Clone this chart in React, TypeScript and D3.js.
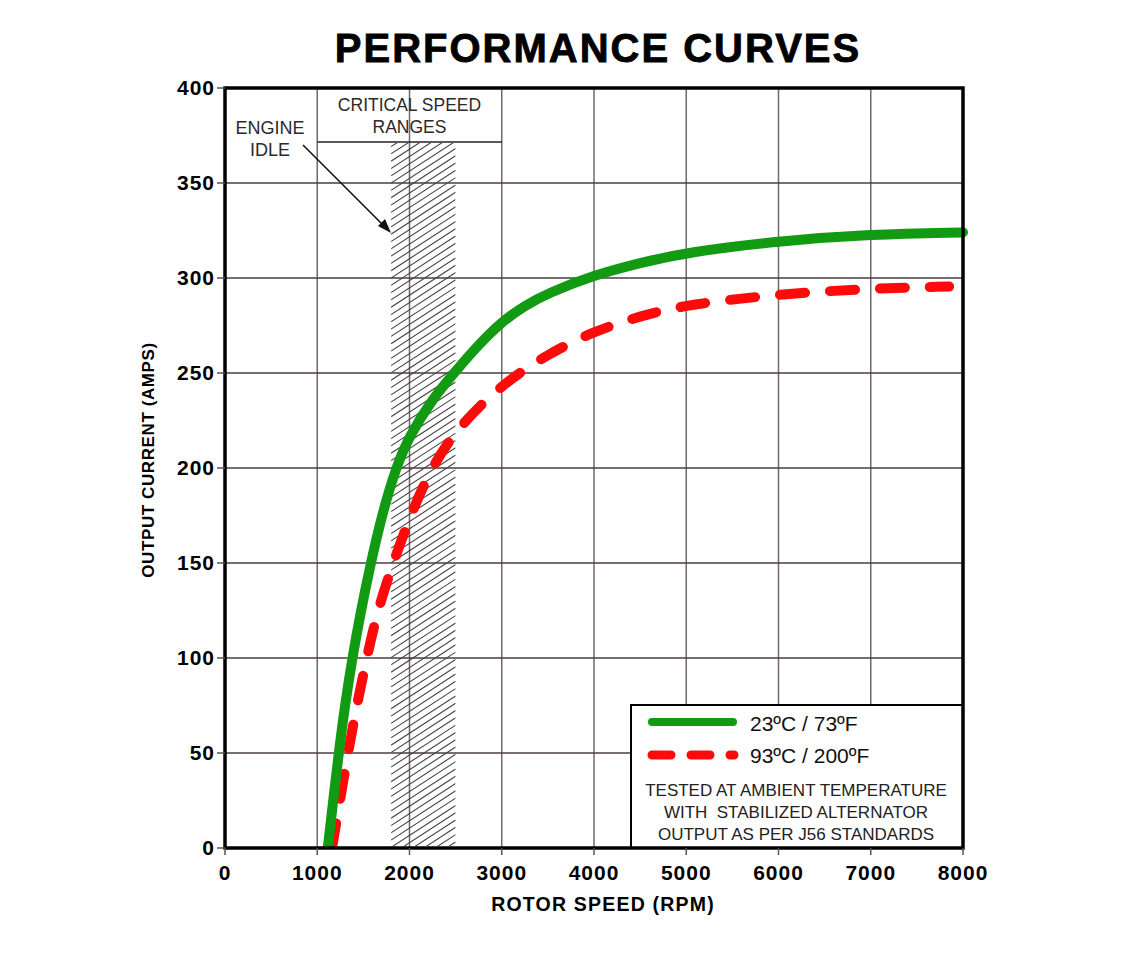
import React from 'react';
import * as d3 from 'd3';

// rotor speed (rpm) vs output current (amps)
const coolRpm = [1114, 1232, 1300, 1380, 1474, 1580, 1700, 1850, 2000, 2250, 2500, 2750, 3000, 3250, 3500, 4000, 4500, 5000, 6000, 7000, 8000];
const coolAmps = [0, 50, 75, 100, 125, 150, 175, 200, 217, 236.5, 251, 265, 277, 285.5, 292, 301.5, 308, 313.5, 319.5, 323, 324];

const hotRpm = [1160, 1332, 1429, 1536, 1654, 1821, 2011, 2232, 2536, 3000, 3500, 4000, 4500, 5000, 6000, 7000, 7850];
const hotAmps = [0, 50, 75, 100, 125, 150, 175, 200, 222, 244, 260, 272, 280, 286, 291.5, 294.5, 295.5];

const xTicks = [0, 1000, 2000, 3000, 4000, 5000, 6000, 7000, 8000];
const yTicks = [0, 50, 100, 150, 200, 250, 300, 350, 400];
const criticalRange = [1800, 2500];
const criticalHeader = [1000, 3000];

const legendLabels = ['23ºC / 73ºF', '93ºC / 200ºF'];
const noteLines = ['TESTED AT AMBIENT TEMPERATURE', 'WITH  STABILIZED ALTERNATOR', 'OUTPUT AS PER J56 STANDARDS'];

const W = 1128;
const H = 954;
const x = d3.scaleLinear().domain([0, 8000]).range([225, 963]);
const y = d3.scaleLinear().domain([0, 400]).range([848, 88]);

const GREEN = '#139a13';
const RED = '#ff0a0a';
const FONT = '"Liberation Sans", Arial, sans-serif';

function App() {
  // b-spline keeps the hand-read points from producing corners
  const line = d3.line<number[]>()
    .x(d => x(d[0]))
    .y(d => y(d[1]))
    .curve(d3.curveBasis);

  const cool = coolRpm.map((r, i) => [r, coolAmps[i]]);
  const hot = hotRpm.map((r, i) => [r, hotAmps[i]]);

  const hx0 = x(criticalRange[0]);
  const hx1 = x(criticalRange[1]);
  const headerY = 142;
  const hatch: number[] = d3.range(headerY - 10, 900, 7.3);

  return (
    <svg width={W} height={H} style={{ position: 'absolute', left: 0, top: 0, background: '#fff' }}
      fontFamily={FONT}>
      <defs>
        <clipPath id="hatchClip">
          <rect x={hx0} y={headerY + 1} width={hx1 - hx0} height={y(0) - headerY - 3} />
        </clipPath>
        <clipPath id="plotClip">
          <rect x={x(0)} y={y(400) - 10} width={x(8000) - x(0) + 12} height={y(0) - y(400) + 10} />
        </clipPath>
      </defs>

      <text x={598} y={62} textAnchor="middle" fontSize={40} fontWeight="bold" letterSpacing={2}
        stroke="#000" strokeWidth={0.8}>PERFORMANCE CURVES</text>

      {/* grid */}
      {xTicks.slice(1, -1).map(t => (
        <line key={'vx' + t} x1={x(t)} x2={x(t)} y1={y(400)} y2={y(0)} stroke="#716868" strokeWidth={1.5} />
      ))}
      {yTicks.slice(1, -1).map(t => (
        <line key={'hy' + t} x1={x(0)} x2={x(8000)} y1={y(t)} y2={y(t)} stroke="#4d3c3c" strokeWidth={1.5} />
      ))}

      {/* critical speed band */}
      <g clipPath="url(#hatchClip)">
        {hatch.map((h, i) => (
          <line key={'h' + i} x1={hx0} y1={h} x2={hx1} y2={h - 0.65 * (hx1 - hx0)} stroke="#454545" strokeWidth={1.1} />
        ))}
      </g>
      <line x1={x(criticalHeader[0])} x2={x(criticalHeader[1])} y1={headerY} y2={headerY} stroke="#222" strokeWidth={1.5} />
      <text x={(x(criticalHeader[0]) + x(criticalHeader[1])) / 2} y={111} textAnchor="middle" fontSize={17.5} fill="#2a2a2a">CRITICAL SPEED</text>
      <text x={(x(criticalHeader[0]) + x(criticalHeader[1])) / 2} y={133} textAnchor="middle" fontSize={17.5} fill="#2a2a2a">RANGES</text>

      <text x={270} y={134} textAnchor="middle" fontSize={18} fill="#2a2a2a">ENGINE</text>
      <text x={270} y={156} textAnchor="middle" fontSize={18} fill="#2a2a2a">IDLE</text>
      <line x1={303} y1={145} x2={384} y2={226} stroke="#111" strokeWidth={1.6} />
      <path d="M391,233 L378,226 L385,219 Z" fill="#111" />

      {/* curves */}
      <g clipPath="url(#plotClip)">
        <path d={line(hot) || ''} fill="none" stroke={RED} strokeWidth={10} strokeLinecap="round" strokeDasharray="25,25" />
        <path d={line(cool) || ''} fill="none" stroke={GREEN} strokeWidth={10} strokeLinecap="round" />
      </g>

      {/* legend */}
      <rect x={631} y={705} width={x(8000) - 631} height={y(0) - 705} fill="#fff" stroke="#000" strokeWidth={2} />
      <line x1={652} x2={733} y1={722} y2={722} stroke={GREEN} strokeWidth={8} strokeLinecap="round" />
      <line x1={652} x2={734} y1={755} y2={755} stroke={RED} strokeWidth={9} strokeLinecap="round" strokeDasharray="19,20" />
      {legendLabels.map((l, i) => (
        <text key={l} x={750} y={731 + i * 32} fontSize={21} fill="#111">{l}</text>
      ))}
      {noteLines.map((l, i) => (
        <text key={l} x={796} y={796 + i * 22} textAnchor="middle" fontSize={17} fill="#222" xmlSpace="preserve">{l}</text>
      ))}

      {/* frame */}
      <rect x={x(0)} y={y(400)} width={x(8000) - x(0)} height={y(0) - y(400)} fill="none" stroke="#000" strokeWidth={3.5} />

      {/* axes */}
      {yTicks.map(t => (
        <g key={'yt' + t}>
          <line x1={x(0) - 8} x2={x(0)} y1={y(t)} y2={y(t)} stroke="#555" strokeWidth={1.5} />
          <text x={215} y={y(t) + 7} textAnchor="end" fontSize={21} fontWeight="bold" letterSpacing={1}>{t}</text>
        </g>
      ))}
      {xTicks.map(t => (
        <g key={'xt' + t}>
          <line x1={x(t)} x2={x(t)} y1={y(0)} y2={y(0) + 7} stroke="#555" strokeWidth={1.5} />
          <text x={x(t)} y={880} textAnchor="middle" fontSize={21} fontWeight="bold" letterSpacing={1}>{t}</text>
        </g>
      ))}
      <text x={603} y={911} textAnchor="middle" fontSize={19.5} fontWeight="bold" letterSpacing={1.2}>ROTOR SPEED (RPM)</text>
      <text transform="translate(154,460) rotate(-90)" textAnchor="middle" fontSize={17} fontWeight="bold" letterSpacing={0.6}>OUTPUT CURRENT (AMPS)</text>
    </svg>
  );
}

export default App;
